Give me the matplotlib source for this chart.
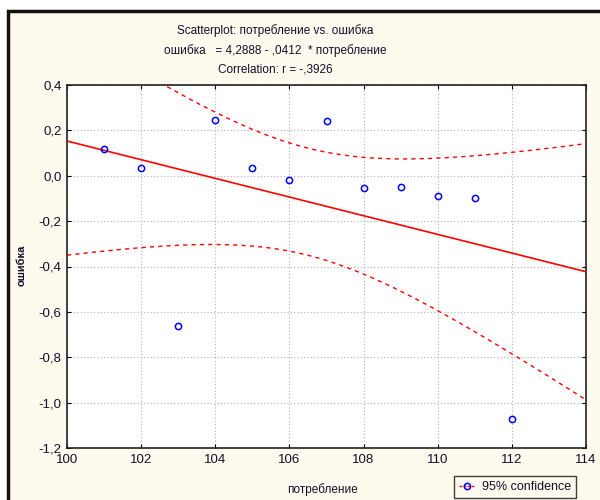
"""Scatterplot of ошибка vs потребление with linear fit and 95% confidence band."""

import matplotlib
matplotlib.use("Agg")
import matplotlib.pyplot as plt
import numpy as np
from matplotlib.lines import Line2D
from matplotlib.patches import Rectangle
from matplotlib.ticker import FuncFormatter

plt.rcParams["font.family"] = ["Liberation Sans", "DejaVu Sans"]

# ---------------------------------------------------------------------------
# Data
# ---------------------------------------------------------------------------
consumption = [101, 102, 103, 104, 105, 106, 107, 108, 109, 110, 111, 112]
error = [0.118, 0.034, -0.662, 0.246, 0.034, -0.019, 0.241, -0.054, -0.050,
         -0.089, -0.100, -1.072]
x_ticks = [100, 102, 104, 106, 108, 110, 112, 114]
y_ticks = [-1.2, -1.0, -0.8, -0.6, -0.4, -0.2, 0.0, 0.2, 0.4]

title_lines = [
    "Scatterplot: потребление vs. ошибка",
    "ошибка   = 4,2888 - ,0412  * потребление",
    "Correlation: r = -,3926",
]

BG = "#fff9ee"
INK = "#10102a"

# ---------------------------------------------------------------------------
# Fit + confidence band for the mean
# ---------------------------------------------------------------------------
x = np.asarray(consumption, dtype=float)
y = np.asarray(error, dtype=float)
n = len(x)
slope, intercept = np.polyfit(x, y, 1)
resid = y - (intercept + slope * x)
s = np.sqrt(np.sum(resid ** 2) / (n - 2))
sxx = np.sum((x - x.mean()) ** 2)
t_crit = 2.228  # t(0.975, 10)

xs = np.linspace(x_ticks[0], x_ticks[-1], 300)
fit = intercept + slope * xs
half = t_crit * s * np.sqrt(1 / n + (xs - x.mean()) ** 2 / sxx)

# ---------------------------------------------------------------------------
# Figure
# ---------------------------------------------------------------------------
fig = plt.figure(figsize=(6, 5), dpi=100, facecolor="white")
fig.patches.append(Rectangle((8 / 600, -0.1), 1.2, 1 - 11 / 500 + 0.1,
                             transform=fig.transFigure, facecolor=BG,
                             edgecolor="#111111", linewidth=2.5, zorder=-10))

ax = fig.add_axes([67 / 600, 1 - 448 / 500, (586 - 67) / 600, (448 - 85) / 500])
ax.set_facecolor("white")

ax.plot(xs, fit, color="red", lw=1.2, zorder=3)
ax.plot(xs, fit + half, color="red", lw=1.0, ls=(0, (3, 3)), zorder=3)
ax.plot(xs, fit - half, color="red", lw=1.0, ls=(0, (3, 3)), zorder=3)
ax.plot(x, y, ls="none", marker="o", ms=4.5, mfc="none", mec="blue",
        mew=1.1, zorder=4)

ax.set_xlim(x_ticks[0], x_ticks[-1])
ax.set_ylim(y_ticks[0], y_ticks[-1])
ax.set_xticks(x_ticks)
ax.set_yticks(y_ticks)
ax.yaxis.set_major_formatter(FuncFormatter(lambda v, _: f"{v:.1f}".replace(".", ",")))
ax.grid(True, color="#b0b0b0", ls=(0, (1, 2)), lw=0.8)
ax.tick_params(direction="in", length=3, top=True, right=True,
               labelsize=9.5, labelcolor=INK, pad=4)
for sp in ax.spines.values():
    sp.set_linewidth(1.2)
    sp.set_color("#222222")

for txt, yp in zip(title_lines, [31, 51, 69]):
    fig.text(275 / 600, 1 - yp / 500, txt, ha="center", va="center",
             fontsize=8.5, color=INK)

fig.text(323 / 600, 1 - 490 / 500, "потребление", ha="center", va="center",
         fontsize=8.5, color=INK)
fig.text(22 / 600, 1 - 265 / 500, "ошибка", ha="center", va="center",
         rotation=90, fontsize=8, fontweight="bold", color=INK)

handle = Line2D([], [], color="red", lw=1, ls=(0, (2, 1)), marker="o", ms=4.5,
                mfc="none", mec="blue", mew=1.1)
leg = fig.legend([handle], ["95% confidence"], loc="lower left",
                 bbox_to_anchor=(454 / 600, 1 - 498 / 500), fontsize=9,
                 frameon=True, fancybox=False, handlelength=1.2,
                 handletextpad=0.6, borderpad=0.4, borderaxespad=0)
leg.get_frame().set_edgecolor("#111111")
leg.get_frame().set_facecolor(BG)
leg.get_frame().set_linewidth(1.0)
for t in leg.get_texts():
    t.set_color(INK)

fig.savefig("out.png", dpi=100, facecolor=fig.get_facecolor())
